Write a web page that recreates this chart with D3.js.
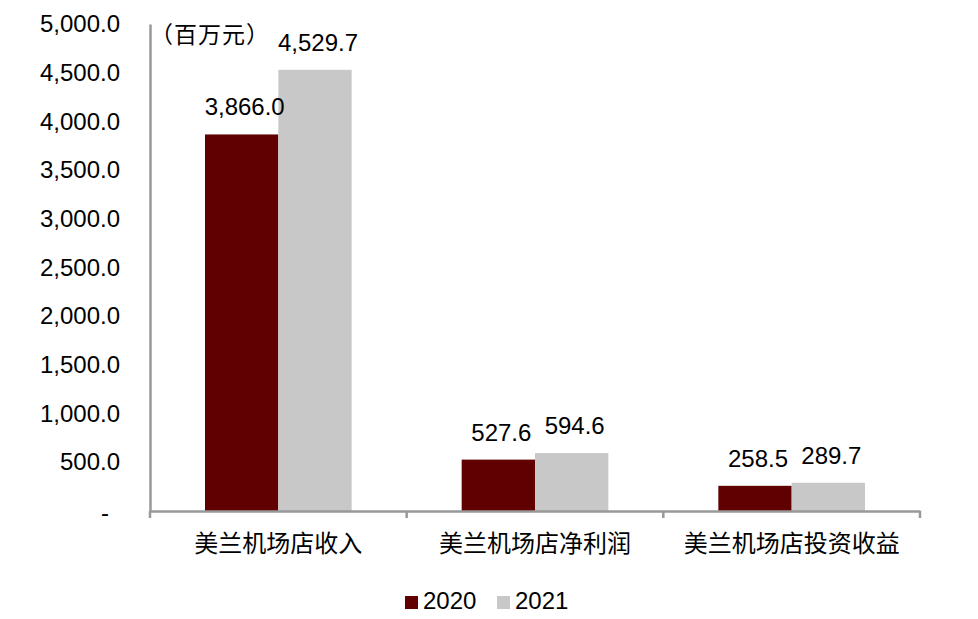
<!DOCTYPE html>
<html>
<head>
<meta charset="utf-8">
<script src="https://cdn.jsdelivr.net/npm/d3@7"></script>
<style>
  body { margin: 0; background: #fff; }
  text { font-family: "Liberation Sans", Arial, "Noto Sans CJK SC", sans-serif; fill: #000; }
</style>
</head>
<body>
<div id="chart"></div>
<script>
// chart data
var categories = ["美兰机场店收入", "美兰机场店净利润", "美兰机场店投资收益"];
var seriesNames = ["2020", "2021"];
var values2020 = [3866.0, 527.6, 258.5];
var values2021 = [4529.7, 594.6, 289.7];
var yTicks = [0, 500, 1000, 1500, 2000, 2500, 3000, 3500, 4000, 4500, 5000];
var colors = ["#600000", "#c8c8c8"];

var svgWidth = 978;
var svgHeight = 619;

var margin = { top: 24, right: 58, bottom: 108, left: 150 };
var width = svgWidth - margin.left - margin.right;
var height = svgHeight - margin.top - margin.bottom;

var svg = d3.select("#chart")
  .append("svg")
  .attr("width", svgWidth)
  .attr("height", svgHeight);

var chartGroup = svg.append("g")
  .attr("transform", `translate(${margin.left}, ${margin.top})`);

// scales
var x0 = d3.scaleBand()
  .domain(categories)
  .range([0, width])
  .padding(0);

var x1 = d3.scaleBand()
  .domain(seriesNames)
  .range([0, x0.bandwidth()])
  .paddingInner(0)
  .paddingOuter(0.75);

var y = d3.scaleLinear()
  .domain([0, 5000])
  .range([height, 0]);

var fmt = d3.format(",.1f");

// y axis
var leftAxis = d3.axisLeft(y)
  .tickValues(yTicks)
  .tickSize(0)
  .tickPadding(30)
  .tickFormat(d => d === 0 ? "-" : fmt(d));

var yAxis = chartGroup.append("g").call(leftAxis);
yAxis.select(".domain").attr("stroke", "#999").attr("stroke-width", 2.5);
yAxis.selectAll("text")
  .attr("font-size", "24px")
  .attr("font-family", "Liberation Sans, Arial, sans-serif");
yAxis.selectAll(".tick")
  .filter(d => d === 0)
  .select("text")
  .attr("dx", -11)
  .attr("dy", "0.4em");

// bars
var rows = categories.map((c, i) => ({ cat: c, vals: [values2020[i], values2021[i]] }));

var groups = chartGroup.selectAll(".grp")
  .data(rows)
  .enter()
  .append("g")
  .attr("class", "grp")
  .attr("transform", d => `translate(${x0(d.cat)}, 0)`);

groups.selectAll("rect")
  .data(d => d.vals.map((v, j) => ({ name: seriesNames[j], v: v, j: j })))
  .enter()
  .append("rect")
  .attr("x", d => x1(d.name))
  .attr("y", d => y(d.v))
  .attr("width", x1.bandwidth())
  .attr("height", d => height - y(d.v))
  .attr("fill", d => colors[d.j]);

groups.selectAll(".val")
  .data(d => d.vals.map((v, j) => ({ name: seriesNames[j], v: v })))
  .enter()
  .append("text")
  .attr("class", "val")
  .attr("x", d => x1(d.name) + x1.bandwidth() / 2 + 3)
  .attr("y", d => y(d.v) - 19)
  .attr("text-anchor", "middle")
  .attr("font-size", "24px")
  .text(d => fmt(d.v));

// x axis
var bottomAxis = d3.axisBottom(x0)
  .tickValues([])
  .tickSizeOuter(0);

var xAxis = chartGroup.append("g")
  .attr("transform", `translate(0, ${height})`)
  .call(bottomAxis);
xAxis.select(".domain").attr("stroke", "#999").attr("stroke-width", 2.5);

// category separators (ticks at band edges)
var edges = categories.map(c => x0(c)).concat([width]);
xAxis.selectAll(".sep")
  .data(edges)
  .enter()
  .append("line")
  .attr("x1", d => d)
  .attr("x2", d => d)
  .attr("y1", 0)
  .attr("y2", 7)
  .attr("stroke", "#999")
  .attr("stroke-width", 2.5);

xAxis.selectAll(".cat")
  .data(categories)
  .enter()
  .append("text")
  .attr("class", "cat")
  .attr("x", d => x0(d) + x0.bandwidth() / 2)
  .attr("y", 41)
  .attr("text-anchor", "middle")
  .attr("font-size", "24px")
  .attr("font-family", "Noto Sans CJK SC, sans-serif")
  .text(d => d);

// unit label
chartGroup.append("text")
  .attr("x", 0)
  .attr("y", 19)
  .attr("font-size", "23px")
  .attr("letter-spacing", "1px")
  .attr("font-family", "Noto Sans CJK SC, sans-serif")
  .text("（百万元）");

// legend
var legend = svg.append("g")
  .attr("transform", "translate(405, 596)");

var legendItems = legend.selectAll("g")
  .data(seriesNames)
  .enter()
  .append("g")
  .attr("transform", (d, i) => `translate(${i * 92}, 0)`);

legendItems.append("rect")
  .attr("width", 13)
  .attr("height", 13)
  .attr("fill", (d, i) => colors[i]);

legendItems.append("text")
  .attr("x", 18)
  .attr("y", 13)
  .attr("font-size", "24px")
  .text(d => d);
</script>
</body>
</html>
